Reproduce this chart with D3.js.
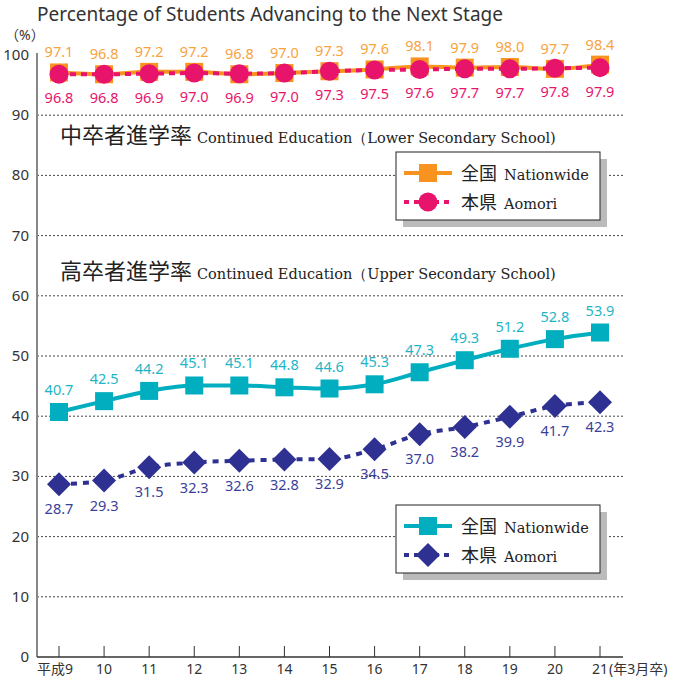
<!DOCTYPE html>
<meta charset="utf-8">
<title>advancing</title>
<style>
    body { margin: 0; background: #fff; }
    text { font-family: "Noto Sans", "Noto Sans CJK JP", sans-serif; }
    .serif { font-family: "DejaVu Serif", "Liberation Serif", serif; }
</style>
<body>
<script src="https://d3js.org/d3.v7.min.js"></script>
<script>
    var years = ["平成9", "10", "11", "12", "13", "14", "15", "16", "17", "18", "19", "20", "21"];
    var yTicks = [0, 10, 20, 30, 40, 50, 60, 70, 80, 90, 100];

    var lowerNation = [97.1, 96.8, 97.2, 97.2, 96.8, 97.0, 97.3, 97.6, 98.1, 97.9, 98.0, 97.7, 98.4];
    var lowerAomori = [96.8, 96.8, 96.9, 97.0, 96.9, 97.0, 97.3, 97.5, 97.6, 97.7, 97.7, 97.8, 97.9];
    var upperNation = [40.7, 42.5, 44.2, 45.1, 45.1, 44.8, 44.6, 45.3, 47.3, 49.3, 51.2, 52.8, 53.9];
    var upperAomori = [28.7, 29.3, 31.5, 32.3, 32.6, 32.8, 32.9, 34.5, 37.0, 38.2, 39.9, 41.7, 42.3];

    var width = 673, height = 682;
    var svg = d3.select("body").append("svg")
        .attr("width", width)
        .attr("height", height);

    var left = 37, right = 623;
    var x = d3.scalePoint().domain(years).range([59, 600]);
    var y = d3.scaleLinear().domain([0, 100]).range([657, 55]);

    // title
    svg.append("text").attr("x", 37).attr("y", 21)
        .style("font-size", "19px").style("fill", "#333")
        .text("Percentage of Students Advancing to the Next Stage");
    svg.append("text").attr("x", 5).attr("y", 40)
        .style("font-size", "14px").style("fill", "#333")
        .text("（%）");

    // grid
    svg.append("g").selectAll("line")
        .data(yTicks.filter(function (d) { return d > 0 && d < 100; }))
        .enter().append("line")
        .attr("x1", left).attr("x2", right)
        .attr("y1", function (d) { return y(d); })
        .attr("y2", function (d) { return y(d); })
        .style("stroke", "#444").style("stroke-width", 1)
        .style("stroke-dasharray", "2,2");

    // y axis
    svg.append("line").attr("x1", left).attr("x2", left)
        .attr("y1", y(100) - 2).attr("y2", y(0))
        .style("stroke", "#888").style("stroke-width", 2);
    svg.append("g").selectAll("text").data(yTicks).enter().append("text")
        .attr("x", 29).attr("y", function (d) { return y(d) + 5; })
        .attr("text-anchor", "end")
        .style("font-size", "15px").style("fill", "#333")
        .text(function (d) { return d; });

    // x axis
    var xAxis = svg.append("g").attr("transform", "translate(0," + y(0) + ")");
    xAxis.append("line").attr("x1", left).attr("x2", right)
        .style("stroke", "#333").style("stroke-width", 1.5);
    xAxis.selectAll(".tk").data(years).enter().append("line")
        .attr("x1", function (d) { return x(d); })
        .attr("x2", function (d) { return x(d); })
        .attr("y1", -11).attr("y2", 0)
        .style("stroke", "#333");
    xAxis.selectAll(".lb").data(years).enter().append("text")
        .attr("x", function (d, i) { return x(d) + (i == 0 ? -4 : 0); })
        .attr("y", 17)
        .attr("text-anchor", "middle")
        .style("font-size", "14px").style("fill", "#333")
        .text(function (d) { return d; });
    xAxis.append("text").attr("x", x("21") + 9).attr("y", 17)
        .style("font-size", "14px").style("fill", "#333")
        .text("(年3月卒)");

    // section headings
    function heading(yy, jp, en) {
        var t = svg.append("text").attr("x", 60).attr("y", yy).style("fill", "#222");
        t.append("tspan").style("font-size", "22px").text(jp);
        t.append("tspan").attr("class", "serif").style("font-size", "14.5px").attr("dx", 5).text(en);
    }
    heading(143, "中卒者進学率", "Continued Education（Lower Secondary School)");
    heading(279, "高卒者進学率", "Continued Education（Upper Secondary School)");

    var line = d3.line()
        .x(function (d, i) { return x(years[i]); })
        .y(function (d) { return y(d); })
        .curve(d3.curveMonotoneX);

    function marker(g, shape, color, cx, cy) {
        if (shape == "square") {
            g.append("rect").attr("x", cx - 9).attr("y", cy - 9)
                .attr("width", 18).attr("height", 18).style("fill", color);
        } else if (shape == "circle") {
            g.append("circle").attr("cx", cx).attr("cy", cy).attr("r", 9.5).style("fill", color);
        } else {
            g.append("path")
                .attr("d", "M" + cx + "," + (cy - 12) + " L" + (cx + 12) + "," + cy +
                    " L" + cx + "," + (cy + 12) + " L" + (cx - 12) + "," + cy + " Z")
                .style("fill", color);
        }
    }

    function series(data, color, dash, shape, labelColor, dy) {
        var g = svg.append("g");
        g.append("path").datum(data).attr("d", line)
            .style("fill", "none").style("stroke", color)
            .style("stroke-width", 4)
            .style("stroke-dasharray", dash);
        data.forEach(function (d, i) {
            marker(g, shape, color, x(years[i]), y(d));
        });
        g.selectAll("text").data(data).enter().append("text")
            .attr("x", function (d, i) { return x(years[i]); })
            .attr("y", function (d) { return y(d) + dy; })
            .attr("text-anchor", "middle")
            .style("font-size", "14.5px").style("fill", labelColor)
            .text(function (d) { return d.toFixed(1); });
    }

    series(lowerNation, "#F7931E", null, "square", "#F7A33E", -15);
    series(lowerAomori, "#E8146B", "6,5", "circle", "#E8146B", 29);
    series(upperNation, "#00AEBF", null, "square", "#1FB5C6", -17);
    series(upperAomori, "#2E3192", "6,6", "diamond", "#3B3F9A", 30);

    // legends
    function legend(ly, c1, shape2, c2) {
        var g = svg.append("g").attr("transform", "translate(396," + ly + ")");
        g.append("rect").attr("x", 7).attr("y", 7).attr("width", 204).attr("height", 68)
            .style("fill", "#bbb");
        g.append("rect").attr("width", 204).attr("height", 68)
            .style("fill", "#fff").style("stroke", "#222").style("stroke-width", 1);
        g.append("line").attr("x1", 8).attr("x2", 56).attr("y1", 21).attr("y2", 21)
            .style("stroke", c1).style("stroke-width", 4);
        marker(g, "square", c1, 32, 21);
        g.append("line").attr("x1", 8).attr("x2", 56).attr("y1", 50).attr("y2", 50)
            .style("stroke", c2).style("stroke-width", 4).style("stroke-dasharray", "5,5");
        marker(g, shape2, c2, 32, 50);
        [["全国", "Nationwide", 28], ["本県", "Aomori", 57]].forEach(function (r) {
            var t = g.append("text").attr("x", 65).attr("y", r[2]).style("fill", "#222");
            t.append("tspan").style("font-size", "18px").text(r[0]);
            t.append("tspan").attr("class", "serif").attr("dx", 7).style("font-size", "14.5px").text(r[1]);
        });
    }
    legend(152, "#F7931E", "circle", "#E8146B");
    legend(505, "#00AEBF", "diamond", "#2E3192");
</script>
</body>
